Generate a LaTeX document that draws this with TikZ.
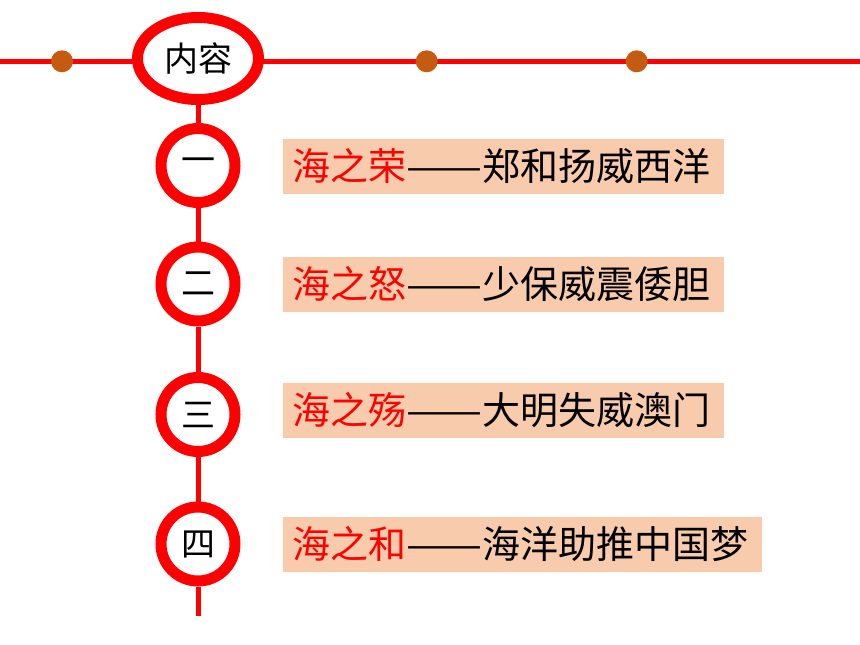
\documentclass[tikz,border=0pt]{standalone}
\usepackage{fontspec}
\usepackage{graphicx}
\setmainfont{Noto Sans CJK SC}
\usetikzlibrary{shapes.geometric,backgrounds}
\definecolor{lred}{HTML}{FF0000}
\definecolor{dotc}{HTML}{C55A11}
\definecolor{boxc}{HTML}{F8CBAD}
\newcommand{\longdash}{\resizebox{76pt}{\height}{——}}
\tikzset{
  redline/.style={draw=lred, line width=5pt},
  ring/.style={circle, draw=lred, line width=11pt, fill=white, inner sep=0pt, minimum size=74pt, font=\fontsize{34}{34}\selectfont},
  oval/.style={ellipse, draw=lred, line width=11pt, fill=white, inner sep=0pt, minimum width=121pt, minimum height=82pt, font=\fontsize{34}{34}\selectfont},
  bead/.style={circle, fill=dotc, inner sep=0pt, minimum size=22pt},
  label box/.style={anchor=west, fill=boxc, inner xsep=9pt, inner ysep=0pt, minimum height=55pt, align=left, font=\fontsize{38}{40}\selectfont},
}
\begin{document}
\begin{tikzpicture}[x=1pt,y=-1pt]
\useasboundingbox (0,0) rectangle (860,645);
\coordinate (lstart) at (0,61.3);
\coordinate (lend) at (860,61.3);
\coordinate (vend) at (198,615.7);
\node[oval] (n0) at (198,58.5) {内容};
\node[bead] (d1) at (62,61.3) {};
\node[bead] (d2) at (426.7,61.3) {};
\node[bead] (d3) at (636.7,61.3) {};
\node[ring] (c1) at (198,165.5) {一};
\node[ring] (c2) at (198,284) {二};
\node[ring] (c3) at (198,414.5) {三};
\node[ring] (c4) at (198,544) {四};
\begin{pgfonlayer}{background}
\draw[redline] (lstart) -- (lend);
\end{pgfonlayer}
\draw[redline] (n0) -- (c1) -- (c2) -- (c3) -- (c4) -- (vend);
\node[label box, text width=423pt] (t1) at (283,166.5) {\textcolor{lred}{海之荣}\longdash 郑和扬威西洋};
\node[label box, text width=423pt] (t2) at (283,284.5) {\textcolor{lred}{海之怒}\longdash 少保威震倭胆};
\node[label box, text width=423pt] (t3) at (283,410) {\textcolor{lred}{海之殇}\longdash 大明失威澳门};
\node[label box, text width=461pt] (t4) at (283,544) {\textcolor{lred}{海之和}\longdash 海洋助推中国梦};
\end{tikzpicture}
\end{document}
